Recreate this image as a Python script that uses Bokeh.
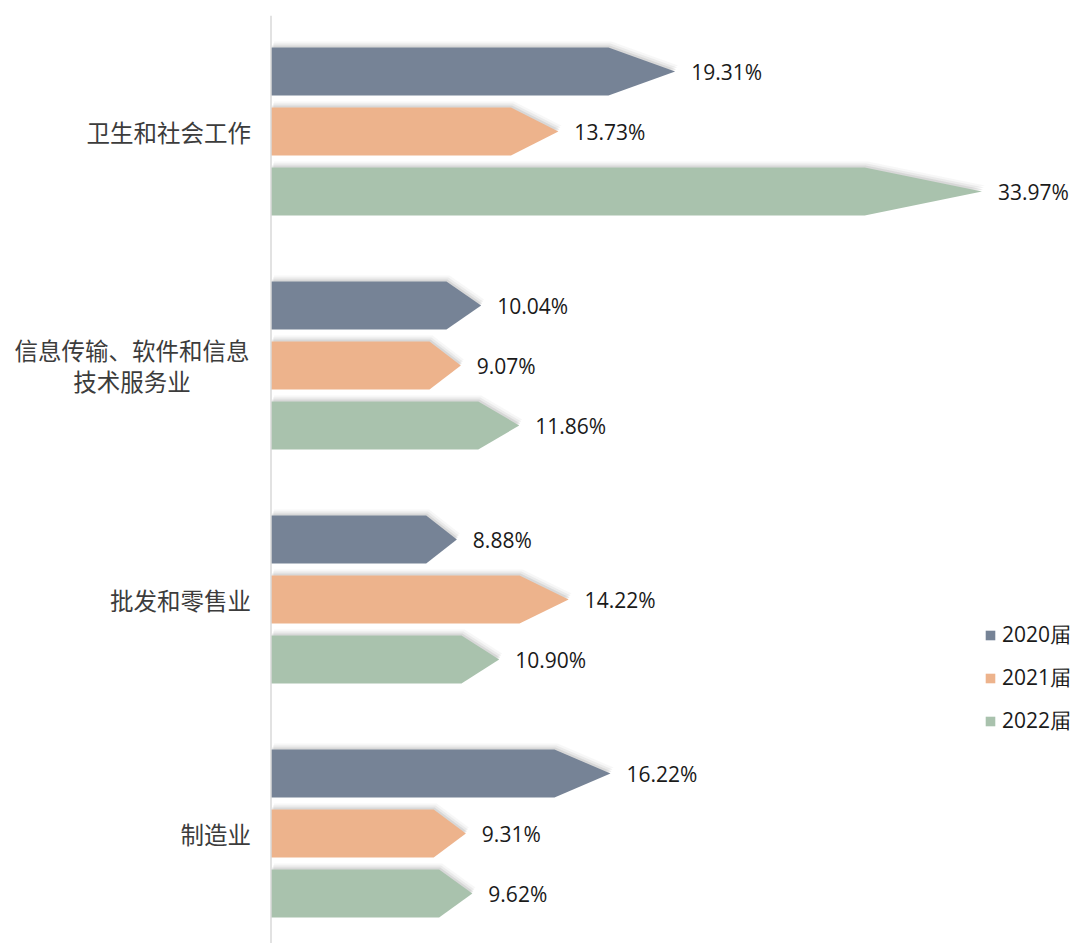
from bokeh.plotting import figure
from bokeh.models import Range1d, Span, ColumnDataSource, Legend, LegendItem
from bokeh.core.properties import value
from bokeh.embed import file_html
from bokeh.resources import INLINE

# ---------------- data ----------------
categories = ["卫生和社会工作", "信息传输、软件和信息\n技术服务业", "批发和零售业", "制造业"]
series = ["2020届", "2021届", "2022届"]
v2020 = [19.31, 10.04, 8.88, 16.22]
v2021 = [13.73, 9.07, 14.22, 9.31]
v2022 = [33.97, 11.86, 10.90, 9.62]
values = [v2020, v2021, v2022]
colors = ["#768396", "#EDB38C", "#A9C2AD"]

# ---------------- layout constants ----------------
W, H = 1078, 943
PX_PER_X = 20.93        # pixels per percentage point
PX_PER_Y = 234.0        # pixels per category band
AXIS_PX = 270.5         # axis position inside frame (from frame left)
TOP_BORDER = 15
FRAME_H = H - TOP_BORDER
CAT0_PX = 116.0         # centre of first category from frame top
BAR_PITCH = 60.0 / PX_PER_Y
BAR_HALF = 24.0 / PX_PER_Y
HEAD = 0.165            # fraction of arrow length used by the head

x_start = -AXIS_PX / PX_PER_X
x_end = (W - AXIS_PX) / PX_PER_X
y_top = -CAT0_PX / PX_PER_Y
y_bottom = (FRAME_H - CAT0_PX) / PX_PER_Y

p = figure(width=W, height=H, output_backend="svg", toolbar_location=None,
           x_range=Range1d(x_start, x_end), y_range=Range1d(y_bottom, y_top),
           x_axis_location=None, y_axis_location=None,
           min_border_left=0, min_border_right=0, min_border_bottom=0,
           min_border_top=TOP_BORDER)
p.outline_line_color = None
p.xgrid.visible = False
p.ygrid.visible = False
p.background_fill_color = "white"


def arrow(v, yc, dx=0.0, dy=0.0):
    xs = [0 + dx, v * (1 - HEAD) + dx, v + dx, v * (1 - HEAD) + dx, 0 + dx]
    ys = [yc - BAR_HALF + dy, yc - BAR_HALF + dy, yc + dy, yc + BAR_HALF + dy, yc + BAR_HALF + dy]
    return xs, ys


# shadows (soft, offset up-right)
for k, a in [(6, 0.06), (4, 0.10), (2, 0.16)]:
    sx, sy = [], []
    for j, vals in enumerate(values):
        for i, v in enumerate(vals):
            yc = i + (j - 1) * BAR_PITCH
            xs, ys = arrow(v, yc, dx=0.5 * k / PX_PER_X, dy=-k / PX_PER_Y)
            sx.append(xs)
            sy.append(ys)
    p.patches(sx, sy, fill_color="#7f7f7f", fill_alpha=a, line_color=None)

renderers = []
for j, vals in enumerate(values):
    ax, ay, lx, ly, lt = [], [], [], [], []
    for i, v in enumerate(vals):
        yc = i + (j - 1) * BAR_PITCH
        xs, ys = arrow(v, yc)
        ax.append(xs)
        ay.append(ys)
        lx.append(v)
        ly.append(yc)
        lt.append(f"{v:.2f}%")
    r = p.patches(ax, ay, fill_color=colors[j], line_color=None)
    renderers.append(r)
    src = ColumnDataSource(dict(x=lx, y=ly, t=lt))
    p.text(x="x", y="y", text="t", source=src, x_offset=16,
           text_align="left", text_baseline="middle",
           text_font=value("Open Sans"), text_font_size="21px", text_color="#1a1a1a")

# axis line
p.add_layout(Span(location=0, dimension="height", line_color="#D9D9D9", line_width=1.5))

# category labels
single = [(i, c) for i, c in enumerate(categories) if "\n" not in c]
multi = [(i, c) for i, c in enumerate(categories) if "\n" in c]
if single:
    p.text(x=[0] * len(single), y=[i for i, _ in single], text=[c for _, c in single],
           x_offset=-20, text_align="right", text_baseline="middle",
           text_font=value("Noto Sans CJK SC"), text_font_size="23.5px", text_color="#3c3c3c")
if multi:
    p.text(x=[0] * len(multi), y=[i for i, _ in multi], text=[c for _, c in multi],
           x_offset=-139, text_align="center", text_baseline="middle", text_line_height=0.9,
           text_font=value("Noto Sans CJK SC"), text_font_size="23.5px", text_color="#3c3c3c")

legend = Legend(items=[LegendItem(label=s, renderers=[r]) for s, r in zip(series, renderers)],
                location=(984, 208), orientation="vertical",
                glyph_width=12, glyph_height=12, label_standoff=6,
                label_height=21, spacing=14, padding=0, margin=0,
                border_line_color=None, background_fill_alpha=0,
                label_text_font="Open Sans", label_text_font_size="21px",
                label_text_color="#1a1a1a")
p.add_layout(legend)

open("out.html", "w").write(file_html(p, INLINE))
